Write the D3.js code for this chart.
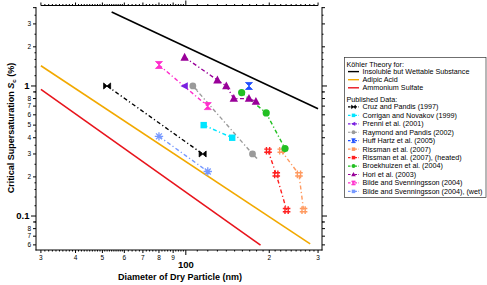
<!DOCTYPE html>
<html>
<head>
<meta charset="utf-8">
<script src="https://cdn.jsdelivr.net/npm/d3@7"></script>
<style>
  body { margin: 0; background: #fff; }
  svg { font-family: "Liberation Sans", Arial, sans-serif; }
</style>
</head>
<body>
<svg id="chart"></svg>
<script>
const width = 487;
const height = 285;

// theory curves: [diameter nm, Sc %]
const insolubleLine = [[54, 3.71], [300, 0.669]];
const adipicLine = [[30, 1.43], [281, 0.061]];
const sulfateLine = [[30, 0.943], [186, 0.0598]];

// published data
const cruzD = [52, 115];           const cruzS = [1.0, 0.30];
const corriganD = [116, 147];      const corriganS = [0.50, 0.40];
const prenniD = [99];              const prenniS = [1.0];
const raymondD = [106, 174];       const raymondS = [1.0, 0.30];
const huffD = [169];               const huffS = [1.0];
const rissmanD = [221, 256, 266];  const rissmanS = [0.318, 0.209, 0.111];
const rissmanHD = [198, 212, 231]; const rissmanHS = [0.318, 0.209, 0.111];
const broekD = [159, 195, 228];    const broekS = [0.89, 0.62, 0.33];
const horiD = [99, 130, 140, 149, 169, 179];
const horiS = [1.66, 1.11, 1.0, 0.80, 0.80, 0.76];
const bildeD = [80, 120];          const bildeS = [1.45, 0.70];
const bildeWetD = [80, 120];       const bildeWetS = [0.41, 0.22];

const xLabelVals = [30, 40, 50, 60, 70, 80, 90, 200, 300];
const yLabelVals = [0.06, 0.07, 0.08, 0.2, 0.3, 0.4, 0.5, 0.6, 0.7, 0.8, 2, 3];

const theory = [
  { name: "Insoluble but Wettable Substance", pts: insolubleLine, color: "#000000" },
  { name: "Adipic Acid", pts: adipicLine, color: "#f2a900" },
  { name: "Ammonium Sulfate", pts: sulfateLine, color: "#e8141c" }
];

const zip = (a, b) => a.map((d, i) => [d, b[i]]);

const series = [
  { name: "Cruz and Pandis (1997)", pts: zip(cruzD, cruzS), color: "#000000", mark: "bowtie" },
  { name: "Corrigan and Novakov (1999)", pts: zip(corriganD, corriganS), color: "#00e5ff", mark: "square" },
  { name: "Prenni et al. (2001)", pts: zip(prenniD, prenniS), color: "#7a1fe0", mark: "ltri" },
  { name: "Raymond and Pandis (2002)", pts: zip(raymondD, raymondS), color: "#9a9a9a", mark: "pin" },
  { name: "Huff Hartz et al. (2005)", pts: zip(huffD, huffS), color: "#1f4fff", mark: "hourglass" },
  { name: "Rissman et al. (2007)", pts: zip(rissmanD, rissmanS), color: "#ff9a60", mark: "hash" },
  { name: "Rissman et al. (2007), (heated)", pts: zip(rissmanHD, rissmanHS), color: "#ff2020", mark: "hash" },
  { name: "Broekhuizen et al. (2004)", pts: zip(broekD, broekS), color: "#22c022", mark: "circle" },
  { name: "Hori et al. (2003)", pts: zip(horiD, horiS), color: "#990099", mark: "utri" },
  { name: "Bilde and Svenningsson (2004)", pts: zip(bildeD, bildeS), color: "#ff2ecc", mark: "hourglass" },
  { name: "Bilde and Svenningsson (2004), (wet)", pts: zip(bildeWetD, bildeWetS), color: "#7799ff", mark: "star" }
];

const svg = d3.select("#chart").attr("width", width).attr("height", height);

const x = d3.scaleLog().domain([28.8, 310]).range([36, 322]);
const y = d3.scaleLog().domain([0.0548, 4.12]).range([250, 6]);

/* ---------------------------
Frame and ticks
--------------------------- */

const frame = svg.append("g").attr("stroke", "#000").attr("stroke-width", 1).attr("fill", "none");
frame.append("line").attr("x1", 36).attr("x2", 36).attr("y1", 7).attr("y2", 250.5);
frame.append("line").attr("x1", 35.5).attr("x2", 322.5).attr("y1", 250).attr("y2", 250);
frame.append("line").attr("x1", 322).attr("x2", 322).attr("y1", 7).attr("y2", 250.5);
frame.append("line").attr("x1", x(30)).attr("x2", x(300)).attr("y1", 5.5).attr("y2", 5.5);

const xMinor = d3.range(31, 60, 1).concat(d3.range(62, 100, 2), d3.range(110, 300, 10))
  .filter(v => !xLabelVals.includes(v));
const yMinor = [];
[0.01, 0.1, 1].forEach(dec => {
  [1.2, 1.4, 1.6, 1.8, 2.5, 3.5, 4.5, 9].forEach(k => yMinor.push(k * dec));
});
const yMinorIn = yMinor.filter(v => v >= 0.0548 && v <= 4.12);
const yLab = yLabelVals.concat([4, 0.09, 0.9]);

function tickSet(vals, len, scaleFn, orient) {
  vals.forEach(v => {
    const p = scaleFn(v);
    if (orient === "bottom") frame.append("line").attr("x1", p).attr("x2", p).attr("y1", 250).attr("y2", 250 + len);
    if (orient === "top") frame.append("line").attr("x1", p).attr("x2", p).attr("y1", 5.5).attr("y2", 5.5 - len);
    if (orient === "left") frame.append("line").attr("x1", 36).attr("x2", 36 - len).attr("y1", p).attr("y2", p);
    if (orient === "right") frame.append("line").attr("x1", 322).attr("x2", 322 + len).attr("y1", p).attr("y2", p);
  });
}

tickSet(xMinor, 1.5, x, "bottom");
tickSet(xLabelVals, 3, x, "bottom");
tickSet([100], 5, x, "bottom");
tickSet(xMinor, 1.5, x, "top");
tickSet(xLabelVals, 3, x, "top");
tickSet([100], 5, x, "top");

tickSet(yMinorIn, 1.5, y, "left");
tickSet(yLab, 3, y, "left");
tickSet([0.1, 1], 5, y, "left");
tickSet(yMinorIn, 1.5, y, "right");
tickSet(yLab, 3, y, "right");
tickSet([0.1, 1], 5, y, "right");

// tick labels
const lab = svg.append("g").attr("fill", "#000");
xLabelVals.forEach(v => {
  lab.append("text").attr("x", x(v)).attr("y", 260).attr("text-anchor", "middle")
    .attr("font-size", 6.5).text(String(v).charAt(0));
});
lab.append("text").attr("x", x(100)).attr("y", 268).attr("text-anchor", "middle")
  .attr("font-size", 9.5).attr("font-weight", "bold").text("100");

yLabelVals.forEach(v => {
  const s = v >= 1 ? String(v) : String(Math.round(v / Math.pow(10, Math.floor(Math.log10(v) + 1e-9))));
  lab.append("text").attr("x", 31).attr("y", y(v)).attr("dy", "0.35em").attr("text-anchor", "end")
    .attr("font-size", 6.5).text(s);
});
lab.append("text").attr("x", 29.5).attr("y", y(1)).attr("dy", "0.35em").attr("text-anchor", "end")
  .attr("font-size", 9.5).attr("font-weight", "bold").text("1");
lab.append("text").attr("x", 29.5).attr("y", y(0.1)).attr("dy", "0.35em").attr("text-anchor", "end")
  .attr("font-size", 9.5).attr("font-weight", "bold").text("0.1");

// axis titles
lab.append("text").attr("x", 180).attr("y", 280).attr("text-anchor", "middle")
  .attr("font-size", 9).attr("font-weight", "bold").text("Diameter of Dry Particle (nm)");

const yt = lab.append("text").attr("transform", "translate(14,128) rotate(-90)")
  .attr("text-anchor", "middle").attr("font-size", 9).attr("font-weight", "bold");
yt.append("tspan").text("Critical Supersaturation ");
yt.append("tspan").attr("font-style", "italic").text("S");
yt.append("tspan").attr("font-size", 6).attr("dy", 2).text("c");
yt.append("tspan").attr("dy", -2).text(" (%)");

/* ---------------------------
Lines and markers
--------------------------- */

const line = d3.line().x(d => x(d[0])).y(d => y(d[1]));

svg.append("g").selectAll("path")
  .data(theory)
  .enter()
  .append("path")
  .attr("d", d => line(d.pts))
  .attr("fill", "none")
  .attr("stroke", d => d.color)
  .attr("stroke-width", 1.6);

svg.append("g").selectAll("path")
  .data(series.filter(s => s.pts.length > 1))
  .enter()
  .append("path")
  .attr("d", d => line(d.pts))
  .attr("fill", "none")
  .attr("stroke", d => d.color)
  .attr("stroke-width", 1.4)
  .attr("stroke-dasharray", "4,2.5,1.2,2.5");

function drawMark(g, type, color, s) {
  const k = s / 4;
  if (type === "bowtie") {
    g.append("path").attr("d", `M${-3.5*k},${-3*k}L${-3.5*k},${3*k}L${3.5*k},${-3*k}L${3.5*k},${3*k}Z`).attr("fill", color)
      .attr("stroke", color).attr("stroke-width", 0.8);
  } else if (type === "hourglass") {
    g.append("path").attr("d", `M${-3.5*k},${-3.5*k}L${3.5*k},${-3.5*k}L${-3.5*k},${3.5*k}L${3.5*k},${3.5*k}Z`).attr("fill", color)
      .attr("stroke", color).attr("stroke-width", 0.8);
  } else if (type === "square") {
    g.append("rect").attr("x", -3.2*k).attr("y", -3.2*k).attr("width", 6.4*k).attr("height", 6.4*k).attr("fill", color);
  } else if (type === "ltri") {
    g.append("path").attr("d", `M${-4.2*k},0L${3.2*k},${-3.8*k}L${3.2*k},${3.8*k}Z`).attr("fill", color);
  } else if (type === "utri") {
    g.append("path").attr("d", `M0,${-4.5*k}L${4.2*k},${3.3*k}L${-4.2*k},${3.3*k}Z`).attr("fill", color);
  } else if (type === "circle") {
    g.append("circle").attr("r", 3.6*k).attr("fill", color);
  } else if (type === "pin") {
    g.append("line").attr("x1", 0).attr("y1", 0).attr("x2", 4.5*k).attr("y2", 4.5*k).attr("stroke", color).attr("stroke-width", 1.6*k);
    g.append("circle").attr("r", 3.4*k).attr("fill", color);
  } else if (type === "hash") {
    const a = 3.8*k, b = 1.6*k;
    g.append("path").attr("d", `M${-b},${-a}L${-b},${a}M${b},${-a}L${b},${a}M${-a},${-b}L${a},${-b}M${-a},${b}L${a},${b}`)
      .attr("stroke", color).attr("stroke-width", 1.4*k).attr("fill", "none");
  } else if (type === "star") {
    const r = 4.2*k, r2 = r * 0.7;
    g.append("path").attr("d", `M${-r},0L${r},0M0,${-r}L0,${r}M${-r2},${-r2}L${r2},${r2}M${-r2},${r2}L${r2},${-r2}`)
      .attr("stroke", color).attr("stroke-width", 1.3*k).attr("fill", "none");
  }
}

series.forEach(s => {
  s.pts.forEach(p => {
    const g = svg.append("g").attr("transform", `translate(${x(p[0])},${y(p[1])})`);
    drawMark(g, s.mark, s.color, 4);
  });
});

/* ---------------------------
Legend
--------------------------- */

const lg = svg.append("g").attr("font-size", 7.2).attr("fill", "#000");
lg.append("rect").attr("x", 344.5).attr("y", 57.5).attr("width", 141.5).attr("height", 140)
  .attr("fill", "#fff").attr("stroke", "#333").attr("stroke-width", 0.7);

lg.append("text").attr("x", 346.5).attr("y", 66.5).text("Köhler Theory for:");
theory.forEach((t, i) => {
  const yy = 74 + i * 8.1;
  lg.append("line").attr("x1", 348).attr("x2", 359).attr("y1", yy - 2.4).attr("y2", yy - 2.4)
    .attr("stroke", t.color).attr("stroke-width", 1.4);
  lg.append("text").attr("x", 362.5).attr("y", yy).text(t.name);
});

lg.append("text").attr("x", 346.5).attr("y", 101.5).text("Published Data:");
series.forEach((s, i) => {
  const yy = 109.3 + i * 8.45;
  lg.append("line").attr("x1", 348).attr("x2", 359).attr("y1", yy - 2.4).attr("y2", yy - 2.4)
    .attr("stroke", s.color).attr("stroke-width", 1.2).attr("stroke-dasharray", "2.5,1.5,1,1.5");
  const g = lg.append("g").attr("transform", `translate(353.5,${yy - 2.4})`);
  drawMark(g, s.mark === "hash" || s.mark === "star" ? "square" : (s.mark === "pin" ? "circle" : s.mark), s.color, 2.2);
  lg.append("text").attr("x", 362.5).attr("y", yy).text(s.name);
});
</script>
</body>
</html>
